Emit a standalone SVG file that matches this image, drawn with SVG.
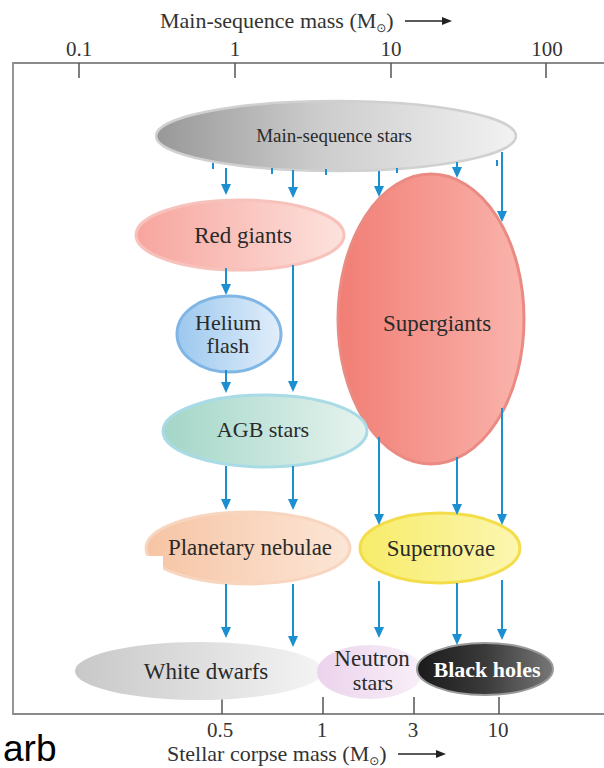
<svg xmlns="http://www.w3.org/2000/svg" width="604" height="768" viewBox="0 0 604 768">
<defs>
<style>
.lbl{font-family:"Liberation Serif","Times New Roman",serif;fill:#2a2a2a;text-anchor:middle}
.ax{font-family:"Liberation Serif","Times New Roman",serif;fill:#333;font-size:21px;text-anchor:middle}
.ttl{font-family:"Liberation Serif","Times New Roman",serif;fill:#333;font-size:22px}
.tick{stroke:#555;stroke-width:1.5}
.con line{stroke:#1b8fd0;stroke-width:2;fill:none}
.con line.a{marker-end:url(#ah)}
</style>
<marker id="ah" markerUnits="userSpaceOnUse" markerWidth="12" markerHeight="11" refX="3" refY="5" orient="auto">
<path d="M0,0 L11,5 L0,10 z" fill="#1b8fd0"/>
</marker>
<linearGradient id="gMS" x1="0" y1="0" x2="1" y2="0"><stop offset="0" stop-color="#989898"/><stop offset="0.45" stop-color="#cccccc"/><stop offset="1" stop-color="#f2f2f2"/></linearGradient>
<linearGradient id="gRG" x1="0" y1="0" x2="1" y2="0"><stop offset="0" stop-color="#f7a59e"/><stop offset="1" stop-color="#fde2dd"/></linearGradient>
<linearGradient id="gHF" x1="0" y1="0" x2="1" y2="0"><stop offset="0" stop-color="#9cc8ee"/><stop offset="1" stop-color="#e2eefa"/></linearGradient>
<linearGradient id="gAGB" x1="0" y1="0" x2="1" y2="0"><stop offset="0" stop-color="#a3d6c8"/><stop offset="1" stop-color="#e6f3ee"/></linearGradient>
<linearGradient id="gPN" x1="0" y1="0" x2="1" y2="0"><stop offset="0" stop-color="#f6c4a4"/><stop offset="1" stop-color="#fce6d6"/></linearGradient>
<linearGradient id="gSG" x1="0" y1="0" x2="1" y2="0"><stop offset="0" stop-color="#f17e75"/><stop offset="1" stop-color="#f9b4ac"/></linearGradient>
<linearGradient id="gSN" x1="0" y1="0" x2="1" y2="0"><stop offset="0" stop-color="#f7ec6a"/><stop offset="1" stop-color="#fcf6b0"/></linearGradient>
<linearGradient id="gWD" x1="0" y1="0" x2="1" y2="0"><stop offset="0" stop-color="#c8c8c8"/><stop offset="1" stop-color="#f4f4f4"/></linearGradient>
<linearGradient id="gNS" x1="0" y1="0" x2="1" y2="0"><stop offset="0" stop-color="#ecd3ec"/><stop offset="1" stop-color="#f8eff8"/></linearGradient>
<linearGradient id="gBH" x1="0" y1="0" x2="1" y2="0"><stop offset="0" stop-color="#1a1a1a"/><stop offset="0.5" stop-color="#3a3a3a"/><stop offset="1" stop-color="#777"/></linearGradient>
</defs>
<rect x="0" y="0" width="604" height="768" fill="#fff"/>

<g id="axes">
<path d="M604,63 H13 V714 H604" fill="none" stroke="#8a8a8a" stroke-width="1.8"/>
<line class="tick" x1="79" y1="63" x2="79" y2="78"/>
<line class="tick" x1="235" y1="63" x2="235" y2="78"/>
<line class="tick" x1="391" y1="63" x2="391" y2="78"/>
<line class="tick" x1="546" y1="63" x2="546" y2="78"/>
<text class="ax" x="79" y="56">0.1</text>
<text class="ax" x="235" y="56">1</text>
<text class="ax" x="391" y="56">10</text>
<text class="ax" x="547" y="56">100</text>
<text class="ttl" x="160" y="28">Main-sequence mass (M<tspan font-size="12" dy="4" font-family="DejaVu Sans">⊙</tspan><tspan dy="-4">)</tspan></text>
<line x1="405" y1="21" x2="444" y2="21" stroke="#222" stroke-width="1.5"/>
<path d="M442,17 L452,21 L442,25 z" fill="#222"/>
<line class="tick" x1="222" y1="697" x2="222" y2="714"/>
<line class="tick" x1="323" y1="697" x2="323" y2="714"/>
<line class="tick" x1="414" y1="697" x2="414" y2="714"/>
<line class="tick" x1="499" y1="697" x2="499" y2="714"/>
<text class="ax" x="220" y="737">0.5</text>
<text class="ax" x="322" y="737">1</text>
<text class="ax" x="413" y="737">3</text>
<text class="ax" x="498" y="737">10</text>
<text class="ttl" x="167" y="761">Stellar corpse mass (M<tspan font-size="12" dy="4" font-family="DejaVu Sans">⊙</tspan><tspan dy="-4">)</tspan></text>
<line x1="398" y1="754" x2="438" y2="754" stroke="#222" stroke-width="1.5"/>
<path d="M436,750 L446,754 L436,758 z" fill="#222"/>
</g>

<g id="main-sequence">
<ellipse cx="336" cy="136" rx="180" ry="35" fill="url(#gMS)" stroke="#d0d0d0" stroke-width="2.5"/>
<text class="lbl" x="334" y="142" font-size="19">Main-sequence stars</text>
</g>
<g id="red-giants">
<ellipse cx="240" cy="235" rx="104" ry="35" fill="url(#gRG)" stroke="#f6c2bb" stroke-width="3"/>
<text class="lbl" x="243" y="243" font-size="23">Red giants</text>
</g>
<g id="supergiants">
<ellipse cx="431" cy="319" rx="93" ry="145" fill="url(#gSG)" stroke="#ea8a82" stroke-width="3"/>
<text class="lbl" x="437" y="331" font-size="23">Supergiants</text>
</g>
<g id="helium-flash">
<ellipse cx="229" cy="334" rx="52" ry="38" fill="url(#gHF)" stroke="#7fb6e6" stroke-width="3"/>
<text class="lbl" x="228" y="330" font-size="22">Helium</text>
<text class="lbl" x="228" y="353" font-size="22">flash</text>
</g>
<g id="agb-stars">
<ellipse cx="265" cy="431" rx="102" ry="36" fill="url(#gAGB)" stroke="#a9dbe6" stroke-width="3"/>
<text class="lbl" x="263" y="437" font-size="22">AGB stars</text>
</g>
<g id="planetary-nebulae">
<ellipse cx="248" cy="548" rx="102" ry="36" fill="url(#gPN)" stroke="#f8d5bf" stroke-width="3"/>
<rect x="144" y="556" width="19" height="34" fill="#fff"/>
<text class="lbl" x="250" y="555" font-size="23">Planetary nebulae</text>
</g>
<g id="supernovae">
<ellipse cx="440" cy="548" rx="80" ry="35" fill="url(#gSN)" stroke="#f3dd4a" stroke-width="3"/>
<text class="lbl" x="441" y="556" font-size="23">Supernovae</text>
</g>
<g id="white-dwarfs">
<ellipse cx="199" cy="671" rx="124" ry="29" fill="url(#gWD)"/>
<text class="lbl" x="206" y="679" font-size="23">White dwarfs</text>
</g>
<g id="neutron-stars">
<ellipse cx="370" cy="672" rx="53" ry="27" fill="url(#gNS)"/>
<text class="lbl" x="372" y="666" font-size="23">Neutron</text>
<text class="lbl" x="373" y="690" font-size="22">stars</text>
</g>
<g id="black-holes">
<ellipse cx="485" cy="669" rx="68" ry="26" fill="url(#gBH)" stroke="#9a9a9a" stroke-width="2"/>
<text class="lbl" x="487" y="677" font-size="22" font-weight="bold" style="fill:#fff">Black holes</text>
</g>

<g id="connectors" class="con">
<line x1="213" y1="163" x2="213" y2="169"/>
<line x1="272" y1="168" x2="272" y2="174"/>
<line x1="326" y1="169" x2="326" y2="175"/>
<line x1="397" y1="168" x2="397" y2="173"/>
<line x1="497" y1="160" x2="497" y2="166"/>
<line class="a" x1="226" y1="168" x2="226" y2="187"/>
<line class="a" x1="293" y1="170" x2="293" y2="190"/>
<line class="a" x1="379" y1="171" x2="379" y2="189"/>
<line class="a" x1="457" y1="162" x2="457" y2="170"/>
<line class="a" x1="502" y1="152" x2="502" y2="214"/>
<line class="a" x1="226" y1="268" x2="226" y2="287"/>
<line class="a" x1="293" y1="265" x2="293" y2="384"/>
<line class="a" x1="226" y1="370" x2="226" y2="385"/>
<line class="a" x1="226" y1="466" x2="226" y2="502"/>
<line class="a" x1="293" y1="466" x2="293" y2="502"/>
<line class="a" x1="379" y1="437" x2="379" y2="517"/>
<line class="a" x1="457" y1="457" x2="457" y2="507"/>
<line class="a" x1="502" y1="408" x2="502" y2="517"/>
<line class="a" x1="226" y1="584" x2="226" y2="630"/>
<line class="a" x1="293" y1="584" x2="293" y2="639"/>
<line class="a" x1="379" y1="581" x2="379" y2="630"/>
<line class="a" x1="457" y1="583" x2="457" y2="637"/>
<line class="a" x1="502" y1="580" x2="502" y2="632"/>
</g>

<text x="3" y="761" font-family="Liberation Sans, Arial, sans-serif" font-size="37" fill="#000">arb</text>
</svg>
